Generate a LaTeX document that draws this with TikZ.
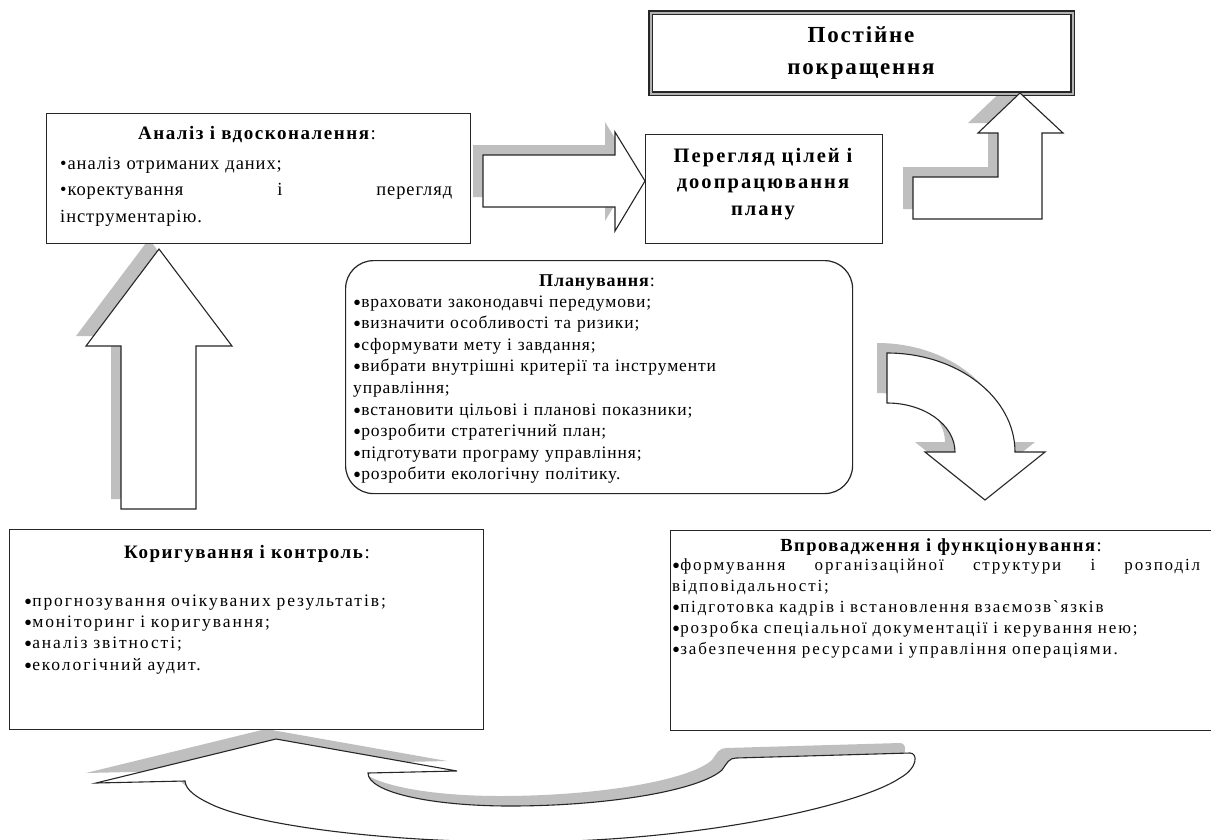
\documentclass[tikz,border=0pt]{standalone}
\usepackage{fontspec}
\setmainfont{Liberation Serif}
\newfontfamily\trackA{Liberation Serif}[LetterSpace=5]
\newfontfamily\trackB{Liberation Serif}[LetterSpace=8]
\newfontfamily\trackC{Liberation Serif}[LetterSpace=10]
\newfontfamily\trackD{Liberation Serif}[LetterSpace=11]
% heavy round bullet used in the list boxes (no effect on line height)
\newcommand\blt{\smash{\raisebox{-3pt}{\fontsize{23}{0}\selectfont•}}}

% block arrow outlines (units: 1pt, y pointing down)
\def\pthRight{(483,155) -- (615,155) -- (615,132) -- (645,181) -- (615,231) -- (615,207) -- (483,207) -- cycle}
\def\pthBent{(913,219) -- (913,177) -- (998,177) -- (998,133) -- (978,133) -- (1020,93) -- (1063,133) -- (1042,133) -- (1042,219) -- cycle}
\def\pthTurn{(887,353) arc[start angle=-90,end angle=0,x radius=128,y radius=99] -- (1045,452) -- (985,500) -- (925,452) -- (955,452) arc[start angle=0,end angle=-90,x radius=68,y radius=49] -- cycle}
\def\pthUp{(121,509) -- (121,346) -- (86,346) -- (159,249) -- (232,346) -- (196,346) -- (196,509) -- cycle}
\def\pthLoop{(96,783) -- (276,739) -- (457,771) -- (368,773)
  .. controls (368,792) and (430,806) .. (510,806)
  .. controls (610,806) and (700,790) .. (722,770)
  .. controls (727,763) and (729,758) .. (736,758)
  -- (910,753)
  .. controls (918,753) and (918,768) .. (900,778)
  .. controls (860,805) and (700,842) .. (520,842)
  .. controls (380,842) and (260,825) .. (215,806)
  .. controls (195,797) and (186,790) .. (185,781) -- cycle}

\tikzset{
  frame/.style={draw=black!85, line width=1.2pt, fill=white, inner sep=0pt, anchor=north west},
  shade/.style={fill=black!25, draw=none, shift={(-10,-10)}},
  blockarrow/.style={draw=black!85, line width=1.1pt, fill=white, line join=miter},
  body/.style={inner sep=0pt, anchor=base west, align=left},
  head/.style={inner sep=0pt, anchor=base},
}

\begin{document}
\begin{tikzpicture}[x=1pt,y=-1pt]
\useasboundingbox (0,0) rectangle (1211,839);
\fill[white] (0,0) rectangle (1211,839);

% shadows of the block arrows
\fill[shade] \pthRight;
\fill[shade] \pthBent;
\fill[shade] \pthTurn;
\fill[shade] \pthUp;
\fill[shade] \pthLoop;

% boxes
\node[frame, minimum width=422pt, minimum height=81pt, double=black!30, double distance=2pt, line width=1.4pt] (goal) at (650,12) {};
\node[frame, minimum width=424pt, minimum height=130pt] (analysis) at (46,113) {};
\node[frame, minimum width=237pt, minimum height=109pt] (review) at (645,134) {};
\node[frame, rounded corners=28pt, minimum width=507pt, minimum height=233pt] (plan) at (345,260) {};
\node[frame, minimum width=474pt, minimum height=200pt] (control) at (9,529) {};
\node[frame, minimum width=548pt, minimum height=200pt] (impl) at (670,530) {};

% block arrows
\path[blockarrow] \pthRight;
\path[blockarrow] \pthBent;
\path[blockarrow] \pthTurn;
\path[blockarrow] \pthUp;
\path[blockarrow] \pthLoop;

% texts
\node[head, align=center, text width=400pt, font=\trackB\bfseries\fontsize{23}{32}\selectfont] (goalT) at (861,42) {Постійне\\покращення};

\node[head, font=\trackB\fontsize{19}{26.5}\selectfont] (analysisT) at (257,139) {\textbf{Аналіз і вдосконалення}:};
\node[body, text width=392pt, font=\trackA\fontsize{18.5}{26.5}\selectfont] (analysisB) at (60,169)
  {•аналіз отриманих даних;\\•коректування\hfill і\hfill перегляд\\інструментарію.};

\node[head, align=center, text width=225pt, font=\trackC\bfseries\fontsize{20.5}{26.5}\selectfont] (reviewT) at (763,162) {Перегляд цілей і\\доопрацювання\\плану};

\node[head, font=\trackA\fontsize{18}{21.5}\selectfont] (planT) at (597,286) {\textbf{Планування}:};
\node[body, text width=490pt, font=\trackA\fontsize{17.5}{21.6}\selectfont] (planB) at (353,307)
  {\blt враховати законодавчі передумови;\\
   \blt визначити особливості та ризики;\\
   \blt сформувати мету і завдання;\\
   \blt вибрати внутрішні критерії та інструменти\\
   управління;\\
   \blt встановити цільові і планові показники;\\
   \blt розробити стратегічний план;\\
   \blt підготувати програму управління;\\
   \blt розробити екологічну політику.};

\node[head, font=\trackB\fontsize{19}{21}\selectfont] (controlT) at (247,558) {\textbf{Коригування і контроль}:};
\node[body, text width=450pt, font=\trackD\fontsize{17.5}{21.4}\selectfont] (controlB) at (24,606)
  {\blt прогнозування очікуваних результатів;\\
   \blt моніторинг і коригування;\\
   \blt аналіз звітності;\\
   \blt екологічний аудит.};

\node[head, font=\trackB\fontsize{18.5}{20.8}\selectfont] (implT) at (941,551) {\textbf{Впровадження і функціонування}:};
\node[body, text width=528pt, font=\trackD\fontsize{17}{21}\selectfont] (implB) at (672,570)
  {\blt формування\hfill організаційної\hfill структури\hfill і\hfill розподіл\\
   відповідальності;\\
   \blt підготовка кадрів і встановлення взаємозв`язків\\
   \blt розробка спеціальної документації і керування нею;\\
   \blt забезпечення ресурсами і управління операціями.};
\end{tikzpicture}
\end{document}
